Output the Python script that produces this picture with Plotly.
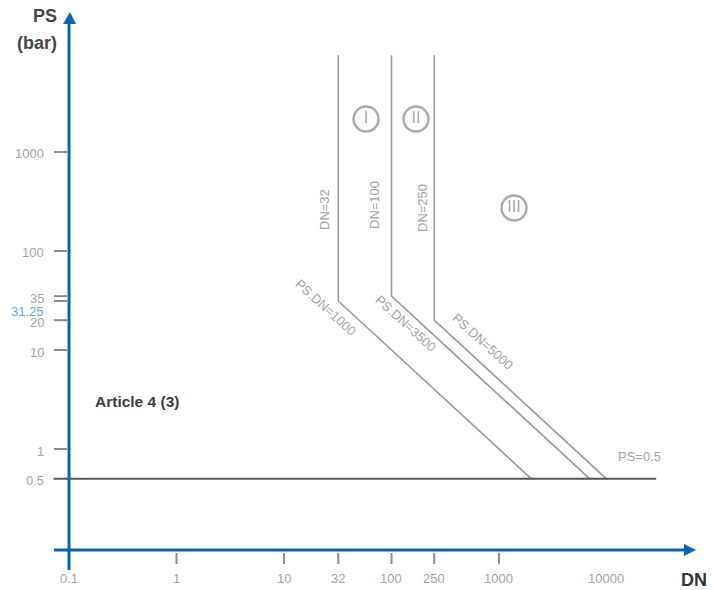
import math
import plotly.graph_objects as go

W, H = 713, 590

# ---------------- data ----------------
dn_limits = [32, 100, 250]            # DN boundaries (vertical lines)
psdn_limits = [1000, 3500, 5000]      # PS*DN boundaries (diagonals)
psdn_labels = ["PS.DN=1000", "PS.DN=3500", "PS.DN=5000"]
dn_labels = ["DN=32", "DN=100", "DN=250"]
ps_min = 0.5                          # PS = 0.5 bar line
ps_top = 9500                         # top of vertical boundaries
ps_line_x = [0.072, 29000]            # extent of the PS=0.5 line

x_tick_vals = [1, 10, 32, 100, 250, 1000]
x_label_vals = [0.1, 1, 10, 32, 100, 250, 1000, 10000]
x_labels = ["0.1", "1", "10", "32", "100", "250", "1000", "10000"]

y_tick_vals = [1000, 100, 35, 31.25, 20, 10, 1]
y_label_vals = [1000, 100, 35, 31.25, 20, 10, 1, 0.5]
y_labels = ["1000", "100", "35", "31.25", "20", "10", "1", "0.5"]

region_labels = ["I", "II", "III"]
region_dn = [58, 169, 1380]
region_ps = [2150, 2150, 272]

# ---------------- style ----------------
BLUE = "#0b63b3"
GRAY = "#9a9a9a"
TICK = "#8c8c8c"
DARK = "#555555"
TXT = "#a3a3a3"
FONT = "Liberation Sans, Arial, sans-serif"

def px(x):
    return x / W

def py(y):
    return 1 - y / H

lg = math.log10

fig = go.Figure()

# boundary polylines: vertical DN line, then diagonal PS*DN line down to PS=0.5
for dn, c in zip(dn_limits, psdn_limits):
    xs = [dn, dn, c / ps_min]
    ys = [ps_top, c / dn, ps_min]
    fig.add_trace(go.Scatter(x=xs, y=ys, mode="lines",
                             line=dict(color=GRAY, width=1.6),
                             hoverinfo="skip", showlegend=False))

# PS = 0.5 line
fig.add_trace(go.Scatter(x=ps_line_x, y=[ps_min, ps_min], mode="lines",
                         line=dict(color=DARK, width=2),
                         hoverinfo="skip", showlegend=False))

# circled region numerals
fig.add_trace(go.Scatter(x=region_dn, y=region_ps, mode="markers+text",
                         text=region_labels, textposition="middle center",
                         textfont=dict(size=16, color="#a8a8a8", family=FONT),
                         marker=dict(symbol="circle-open", size=25,
                                     color="#aaaaaa", line=dict(width=2.4, color="#aaaaaa")),
                         hoverinfo="skip", showlegend=False))

shapes = []
# axes
shapes.append(dict(type="line", xref="x", yref="paper", x0=0.1, x1=0.1,
                   y0=py(570), y1=py(22), line=dict(color=BLUE, width=3)))
shapes.append(dict(type="line", xref="paper", yref="paper", x0=px(54), x1=px(686),
                   y0=py(550), y1=py(550), line=dict(color=BLUE, width=3)))
# arrow heads
shapes.append(dict(type="path", xref="x", yref="paper", xsizemode="pixel", ysizemode="pixel",
                   xanchor=0.1, yanchor=py(24), path="M -6 0 L 7 0 L 1 12 Z",
                   fillcolor=BLUE, line=dict(width=0)))
shapes.append(dict(type="path", xref="paper", yref="paper", xsizemode="pixel", ysizemode="pixel",
                   xanchor=px(684), yanchor=py(550), path="M 0 -6 L 0 6 L 12 0 Z",
                   fillcolor=BLUE, line=dict(width=0)))
# x ticks
for v in x_tick_vals:
    shapes.append(dict(type="line", xref="x", yref="paper", x0=v, x1=v,
                       y0=py(553), y1=py(564), line=dict(color=TICK, width=2)))
# y ticks
for v in y_tick_vals:
    shapes.append(dict(type="line", xref="paper", yref="y", x0=px(54), x1=px(67),
                       y0=v, y1=v, line=dict(color=TICK, width=2)))

ann = []
def add_text(x, y, text, size, color, angle=0, bold=False):
    t = "<b>%s</b>" % text if bold else text
    ann.append(dict(x=px(x), y=py(y), xref="paper", yref="paper", text=t, textangle=angle,
                    showarrow=False, xanchor="center", yanchor="middle",
                    font=dict(size=size, color=color, family=FONT)))

# x tick labels
for v, t in zip(x_label_vals, x_labels):
    ann.append(dict(x=lg(v), xref="x", y=py(578), yref="paper", text=t, showarrow=False,
                    font=dict(size=13, color=TXT, family=FONT), xanchor="center", yanchor="middle"))
# y tick labels
for v, t in zip(y_label_vals, y_labels):
    shift = -2
    col = TXT
    if t == "31.25":
        shift = -10
        col = "#5aa8e6"
    ann.append(dict(x=px(46), xref="paper", y=lg(v), yref="y", yshift=shift, text=t, showarrow=False,
                    font=dict(size=13, color=col, family=FONT), xanchor="right", yanchor="middle"))
# axis titles
ann.append(dict(x=px(59), y=py(16), xref="paper", yref="paper", text="<b>PS</b>", showarrow=False,
                font=dict(size=18, color="#454545", family=FONT), xanchor="right", yanchor="middle"))
ann.append(dict(x=px(59), y=py(43), xref="paper", yref="paper", text="<b>(bar)</b>", showarrow=False,
                font=dict(size=18, color="#454545", family=FONT), xanchor="right", yanchor="middle"))
add_text(694, 580, "DN", 18, "#333333", bold=True)
add_text(137, 401, "Article 4 (3)", 15.5, "#3d3d3d", bold=True)
add_text(639, 456, "PS=0.5", 13, TXT)

# DN labels (vertical)
dn_label_px = [(325, 210), (375, 205), (422, 208)]
for t, (ax_, ay_) in zip(dn_labels, dn_label_px):
    add_text(ax_, ay_, t, 13, TXT, angle=-90)
# PS.DN labels (diagonal)
psdn_label_px = [(326, 307), (406, 323), (483, 341)]
for t, (ax_, ay_) in zip(psdn_labels, psdn_label_px):
    add_text(ax_, ay_, t, 13, TXT, angle=42)

fig.update_layout(
    width=W, height=H,
    margin=dict(l=0, r=0, t=0, b=0),
    paper_bgcolor="white", plot_bgcolor="white",
    xaxis=dict(type="log", range=[-1.642, 4.991], visible=False, fixedrange=True),
    yaxis=dict(type="log", range=[-1.424, 4.535], visible=False, fixedrange=True),
    shapes=shapes, annotations=ann, showlegend=False,
)

fig.write_html("out.html", config={"displayModeBar": False},
               post_script="document.body.style.margin='0';document.body.style.overflow='hidden';")
